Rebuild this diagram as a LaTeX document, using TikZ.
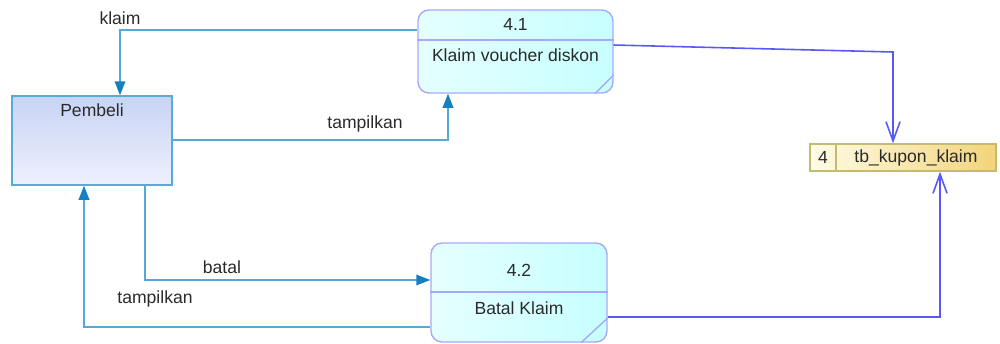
\documentclass[tikz,border=0pt]{standalone}
\usepackage{fontspec}
\setmainfont{Liberation Sans}
\usetikzlibrary{arrows.meta}
\definecolor{flowc}{HTML}{55A8D8}
\definecolor{tipc}{HTML}{1580C0}
\definecolor{storec}{HTML}{5858F8}
\definecolor{procb}{HTML}{A8A8F8}
\definecolor{entb}{HTML}{5AAAD8}
\definecolor{dsb}{HTML}{C4BC6C}
\definecolor{txt}{HTML}{2A2A2A}
\definecolor{enttop}{HTML}{C8D4F4}
\definecolor{entbot}{HTML}{EEF0FD}
\definecolor{dsleft}{HTML}{FFFCE6}
\definecolor{dsright}{HTML}{F2D47A}

\begin{document}
\begin{tikzpicture}[x=0.02cm,y=-0.02cm,
    font=\fontsize{10}{12}\selectfont,text=txt,
    ent/.style={draw=entb,line width=.8pt,top color=enttop,
      bottom color=entbot,minimum width=3.2cm,minimum height=1.78cm},
    proc/.style={draw=procb,line width=.8pt,rounded corners=.22cm,
      left color=cyan!10!white,right color=cyan!22!white,minimum width=3.9cm},
    store/.style={draw=dsb,line width=.8pt,left color=dsleft,right color=dsright,
      minimum width=3.72cm,minimum height=.54cm},
    flow/.style={flowc,line width=1pt,-{Triangle[length=8pt,width=6pt,color=tipc]}},
    dflow/.style={storec,line width=.9pt,-{Straight Barb[length=11pt,width=8pt]}}]
  \useasboundingbox (0,0) rectangle (1000,343);

  \node[ent] (pembeli) at (92,140.5) {};
  \node (pembelitxt) at (92,110) {Pembeli};

  \node[proc,minimum height=1.66cm] (p41) at (515.5,51.5) {};
  \draw[procb,line width=.8pt] (p41.west |- 0,40) -- (p41.east |- 0,40);
  \draw[procb,line width=.8pt] (p41.east |- 0,75) -- (p41.south -| 595,0);
  \node (n41) at (515.5,24) {4.1};
  \node (t41) at (515.5,55) {Klaim voucher diskon};

  \node[proc,minimum width=3.52cm,minimum height=1.98cm] (p42) at (519,292.5) {};
  \draw[procb,line width=.8pt] (p42.west |- 0,292) -- (p42.east |- 0,292);
  \draw[procb,line width=.8pt] (p42.east |- 0,318) -- (p42.south -| 581,0);
  \node (n42) at (519,270) {4.2};
  \node (t42) at (519,308) {Batal Klaim};

  \node[store] (kupon) at (903,157.5) {};
  \draw[dsb,line width=.8pt] (kupon.north -| 836,0) -- (kupon.south -| 836,0);
  \node (nk) at (823,157.5) {4};
  \node (tk) at (916,157.5) {tb\_kupon\_klaim};

  \draw[flow] (p41.west |- 0,30) -| (pembeli.north -| 120,0);
  \node (lklaim) at (120,18) {klaim};
  \draw[flow] (pembeli.east |- 0,140) -| (p41.south -| 448,0);
  \node (ltamp1) at (365,124) {tampilkan};
  \draw[flow] (pembeli.south -| 145,0) |- (p42.west |- 0,280);
  \node (lbatal) at (222,267) {batal};
  \draw[flow] (p42.west |- 0,327) -| (pembeli.south -| 84,0);
  \node (ltamp2) at (155,299) {tampilkan};

  \coordinate (bend1) at (893,52);
  \draw[dflow] (p41.east |- 0,45) -- (bend1) -- (kupon.north -| bend1);
  \draw[dflow] (p42.east |- 0,317) -| (kupon.south -| 940,0);
\end{tikzpicture}
\end{document}
